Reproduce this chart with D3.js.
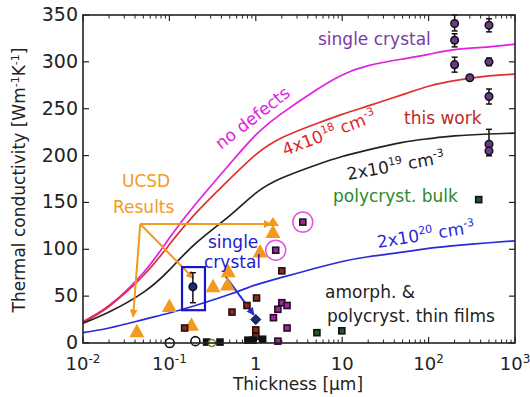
<!DOCTYPE html>
<html>
<head>
<meta charset="utf-8">
<script src="https://cdn.jsdelivr.net/npm/d3@7"></script>
<style>
body { margin: 0; background: #fff; }
svg text { font-family: "DejaVu Sans", sans-serif; }
</style>
</head>
<body>
<svg id="canvas"></svg>
<script>
// model curves
let thick = [0.01, 0.02, 0.05, 0.1, 0.2, 0.5, 1, 2, 5, 10, 20, 50, 100, 200, 500, 1000];
let noDefects = [23, 40, 75, 112, 148, 191, 222, 245, 270, 286, 296, 303, 308, 313, 316, 319];
let dop4e18 = [22, 39, 72, 105, 138, 175, 201, 219, 234, 244, 253, 265, 274, 280, 285, 287];
let dop2e19 = [21, 33, 54, 78, 106, 136, 160, 176, 190, 199, 206, 214, 218, 221, 223, 224];
let dop2e20 = [11, 16, 25, 32, 40, 52, 62, 70, 80, 87, 92, 97, 101, 104, 107, 109];

// measured points [thickness, k]
let ucsd = [[0.042, 12], [0.1, 39], [0.18, 19], [0.32, 60], [0.47, 62], [0.48, 76], [1.12, 97], [1.58, 118]];
let maroonSq = [[0.15, 16], [0.53, 33], [0.79, 40], [1.02, 48], [2.0, 77], [1.0, 14], [1.0, 7]];
let purpleSq = [[1.7, 99], [3.5, 129], [2.0, 43], [2.3, 40], [1.8, 36], [1.6, 27], [2.3, 16], [1.8, 2]];
let circled = [[1.7, 99], [3.5, 129]];
let blackSq = [[0.27, 1], [0.385, 1], [0.81, 3], [0.93, 3], [1.2, 4]];
let greenSq = [[5.1, 11], [9.9, 13], [380, 153]];
let openBlack = [[0.101, 0], [0.2, 2]];
let openGreen = [[0.31, 0]];
let blueDiamond = [[1.0, 25]];
let blueErr = [[0.187, 60, 43, 75]];
// this work / single crystal: [thickness, k, low, high]
let bulkPts = [[200, 341, 333, 350], [200, 323, 316, 330], [200, 297, 289, 305], [300, 283, 283, 283],
  [500, 339, 332, 346], [500, 300, 296, 304], [500, 263, 255, 271], [500, 212, 200, 228], [500, 205, 200, 210]];

let yTicks = [0, 50, 100, 150, 200, 250, 300, 350];
let xTicks = [0.01, 0.1, 1, 10, 100, 1000];
let xTickExp = ['-2', '-1', '', '', '2', '3'];
let xTickBase = ['10', '10', '1', '10', '10', '10'];

let width = 530;
let height = 397;
let padL = 83, padR = 515, padT = 15, padB = 343;

let svg = d3.select('#canvas').attr('width', width).attr('height', height);

let xScale = d3.scaleLog().domain([0.01, 1000]).range([padL, padR]);
let yScale = d3.scaleLinear().domain([0, 350]).range([padB, padT]);

/* ticks, inward, on all four sides */
let minor = [];
for (let e = -2; e < 3; e++) {
    for (let m = 2; m < 10; m++) minor.push(m * Math.pow(10, e));
}
let axisG = svg.append('g');
[padB, padT].forEach(y => {
    let dir = y === padB ? -1 : 1;
    axisG.selectAll(null).data(xTicks).enter().append('line')
        .attr('x1', d => xScale(d)).attr('x2', d => xScale(d))
        .attr('y1', y).attr('y2', y + dir * 6)
        .attr('stroke', '#222').attr('stroke-width', 1.2);
    axisG.selectAll(null).data(minor).enter().append('line')
        .attr('x1', d => xScale(d)).attr('x2', d => xScale(d))
        .attr('y1', y).attr('y2', y + dir * 3.5)
        .attr('stroke', '#222').attr('stroke-width', 1);
});
[padL, padR].forEach(x => {
    let dir = x === padL ? 1 : -1;
    axisG.selectAll(null).data(yTicks).enter().append('line')
        .attr('x1', x).attr('x2', x + dir * 6)
        .attr('y1', d => yScale(d)).attr('y2', d => yScale(d))
        .attr('stroke', '#222').attr('stroke-width', 1.2);
});

axisG.selectAll(null).data(yTicks).enter().append('text')
    .attr('x', padL - 5).attr('y', d => yScale(d) + 6)
    .attr('text-anchor', 'end').attr('font-size', 19).attr('fill', '#222')
    .text(d => d);

let xl = axisG.selectAll(null).data(xTicks).enter().append('text')
    .attr('x', d => xScale(d)).attr('y', 370)
    .attr('text-anchor', 'middle').attr('font-size', 18).attr('fill', '#222');
xl.append('tspan').text((d, i) => xTickBase[i]);
xl.append('tspan').attr('dy', -7).attr('font-size', 12).text((d, i) => xTickExp[i]);

svg.append('text').attr('x', 298).attr('y', 390).attr('text-anchor', 'middle')
    .attr('font-size', 17).attr('fill', '#222').text('Thickness [µm]');

let yt = svg.append('text').attr('transform', 'translate(25,180) rotate(-90)')
    .attr('text-anchor', 'middle').attr('font-size', 17).attr('fill', '#222');
yt.append('tspan').text('Thermal conductivity  [Wm');
yt.append('tspan').attr('dy', -6).attr('font-size', 11).text('-1');
yt.append('tspan').attr('dy', 6).text('K');
yt.append('tspan').attr('dy', -6).attr('font-size', 11).text('-1');
yt.append('tspan').attr('dy', 6).text(']');

/* model curves */
let line = d3.line().x(d => xScale(d[0])).y(d => yScale(d[1])).curve(d3.curveNatural);
let curves = [[noDefects, '#e020e0'], [dop4e18, '#e03030'], [dop2e19, '#222'], [dop2e20, '#2a2ad8']];
curves.forEach(c => {
    svg.append('path').datum(thick.map((t, i) => [t, c[0][i]]))
        .attr('d', line).attr('fill', 'none').attr('stroke', c[1]).attr('stroke-width', 1.7);
});

/* orange annotation arrows */
let orange = '#f39a1e';
let defs = svg.append('defs');
defs.append('marker').attr('id', 'ah').attr('viewBox', '0 0 10 10').attr('refX', 9).attr('refY', 5)
    .attr('markerWidth', 4).attr('markerHeight', 4).attr('orient', 'auto')
    .append('path').attr('d', 'M0,0L10,5L0,10z').attr('fill', orange);
defs.append('marker').attr('id', 'bh').attr('viewBox', '0 0 10 10').attr('refX', 9).attr('refY', 5)
    .attr('markerWidth', 4).attr('markerHeight', 4).attr('orient', 'auto')
    .append('path').attr('d', 'M0,0L10,5L0,10z').attr('fill', '#2a2ad8');
let arrowFrom = [0.046, 127];
let arrowTo = [[1.5, 127], [0.19, 69], [0.038, 28]];
arrowTo.forEach(p => {
    svg.append('line').attr('x1', xScale(arrowFrom[0])).attr('y1', yScale(arrowFrom[1]))
        .attr('x2', xScale(p[0])).attr('y2', yScale(p[1]))
        .attr('stroke', orange).attr('stroke-width', 2).attr('marker-end', 'url(#ah)');
});
svg.append('line').attr('x1', xScale(0.44)).attr('y1', yScale(72))
    .attr('x2', xScale(0.95)).attr('y2', yScale(30))
    .attr('stroke', '#2a2ad8').attr('stroke-width', 2).attr('marker-end', 'url(#bh)');

/* blue box */
svg.append('rect').attr('x', xScale(0.14)).attr('y', yScale(81))
    .attr('width', xScale(0.258) - xScale(0.14)).attr('height', yScale(35) - yScale(81))
    .attr('fill', 'none').attr('stroke', '#1515d0').attr('stroke-width', 2.2);

/* points */
let sq = 6;
function squares(data, fill, stroke) {
    svg.append('g').selectAll('rect').data(data).enter().append('rect')
        .attr('x', d => xScale(d[0]) - sq / 2).attr('y', d => yScale(d[1]) - sq / 2)
        .attr('width', sq).attr('height', sq)
        .attr('fill', fill).attr('stroke', stroke).attr('stroke-width', 1.6);
}
svg.append('g').selectAll('circle').data(circled).enter().append('circle')
    .attr('cx', d => xScale(d[0])).attr('cy', d => yScale(d[1])).attr('r', 10)
    .attr('fill', 'none').attr('stroke', '#e055e0').attr('stroke-width', 1.5);

svg.append('g').selectAll('path').data(ucsd).enter().append('path')
    .attr('transform', d => 'translate(' + xScale(d[0]) + ',' + yScale(d[1]) + ')')
    .attr('d', 'M0,-8L7.5,5.5L-7.5,5.5z').attr('fill', orange);
// up arrow on the top UCSD point
svg.append('path').attr('transform', 'translate(' + xScale(1.58) + ',' + yScale(128) + ')')
    .attr('d', 'M0,-6L6,3L-6,3z').attr('fill', orange);

squares(maroonSq, '#8a2a1a', '#2a0d0d');
squares(purpleSq, '#9a2a9a', '#2a0a2a');
squares(blackSq, '#111', '#111');
squares(greenSq, '#1f5a2a', '#111');

svg.append('g').selectAll('circle').data(openBlack).enter().append('circle')
    .attr('cx', d => xScale(d[0])).attr('cy', d => yScale(d[1])).attr('r', 4.5)
    .attr('fill', '#fff').attr('stroke', '#111').attr('stroke-width', 1.6);
svg.append('g').selectAll('circle').data(openGreen).enter().append('circle')
    .attr('cx', d => xScale(d[0])).attr('cy', d => yScale(d[1])).attr('r', 3.5)
    .attr('fill', '#fff').attr('stroke', '#6a8a2a').attr('stroke-width', 1.6);

svg.append('g').selectAll('path').data(blueDiamond).enter().append('path')
    .attr('transform', d => 'translate(' + xScale(d[0]) + ',' + yScale(d[1]) + ')')
    .attr('d', 'M0,-5L5,0L0,5L-5,0z').attr('fill', '#1a2a7a').attr('stroke', '#0a0a3a');

function errPts(data, fill) {
    let g = svg.append('g');
    g.selectAll('line.e').data(data).enter().append('line')
        .attr('x1', d => xScale(d[0])).attr('x2', d => xScale(d[0]))
        .attr('y1', d => yScale(d[2])).attr('y2', d => yScale(d[3]))
        .attr('stroke', '#111').attr('stroke-width', 1.5);
    [2, 3].forEach(k => {
        g.selectAll(null).data(data.filter(d => d[2] !== d[3])).enter().append('line')
            .attr('x1', d => xScale(d[0]) - 3).attr('x2', d => xScale(d[0]) + 3)
            .attr('y1', d => yScale(d[k])).attr('y2', d => yScale(d[k]))
            .attr('stroke', '#111').attr('stroke-width', 1.5);
    });
    g.selectAll('circle').data(data).enter().append('circle')
        .attr('cx', d => xScale(d[0])).attr('cy', d => yScale(d[1])).attr('r', 3.8)
        .attr('fill', fill).attr('stroke', '#111').attr('stroke-width', 1.5);
}
errPts(blueErr, '#1a2a8a');
errPts(bulkPts, '#6a3a8a');

/* frame */
svg.append('rect').attr('x', padL).attr('y', padT).attr('width', padR - padL).attr('height', padB - padT)
    .attr('fill', 'none').attr('stroke', '#222').attr('stroke-width', 1.6);

/* labels */
function label(txt, x, y, color, size, angle) {
    let t = svg.append('text').attr('font-size', size).attr('fill', color)
        .attr('transform', 'translate(' + x + ',' + y + ') rotate(' + (angle || 0) + ')');
    txt.forEach(p => {
        t.append('tspan').attr('dy', p[1] || 0).attr('font-size', p[2] || size).text(p[0]);
    });
    return t;
}
label([['single crystal']], 318, 45, '#7a3aa8', 17);
label([['no defects']], 221, 150, '#e020e0', 17, -38);
label([['4x10'], ['18', -7, 11], [' cm', 7], ['-3', -7, 11]], 285, 156, '#e02828', 17, -21);
label([['this work']], 404, 124, '#c02828', 17);
label([['2x10'], ['19', -7, 11], [' cm', 7], ['-3', -7, 11]], 348, 180, '#222', 17, -10);
label([['polycryst. bulk']], 333, 202, '#2a8a2a', 17);
label([['2x10'], ['20', -7, 11], [' cm', 7], ['-3', -7, 11]], 378, 248, '#2a2ad8', 17, -9);
label([['amorph. &']], 325, 298, '#222', 17);
label([['polycryst. thin films']], 327, 322, '#222', 17);
label([['UCSD']], 122, 187, orange, 17);
label([['Results']], 113, 213, orange, 17);
label([['single']], 208, 248, '#2020d0', 17);
label([['crystal']], 204, 268, '#2020d0', 17);
</script>
</body>
</html>
